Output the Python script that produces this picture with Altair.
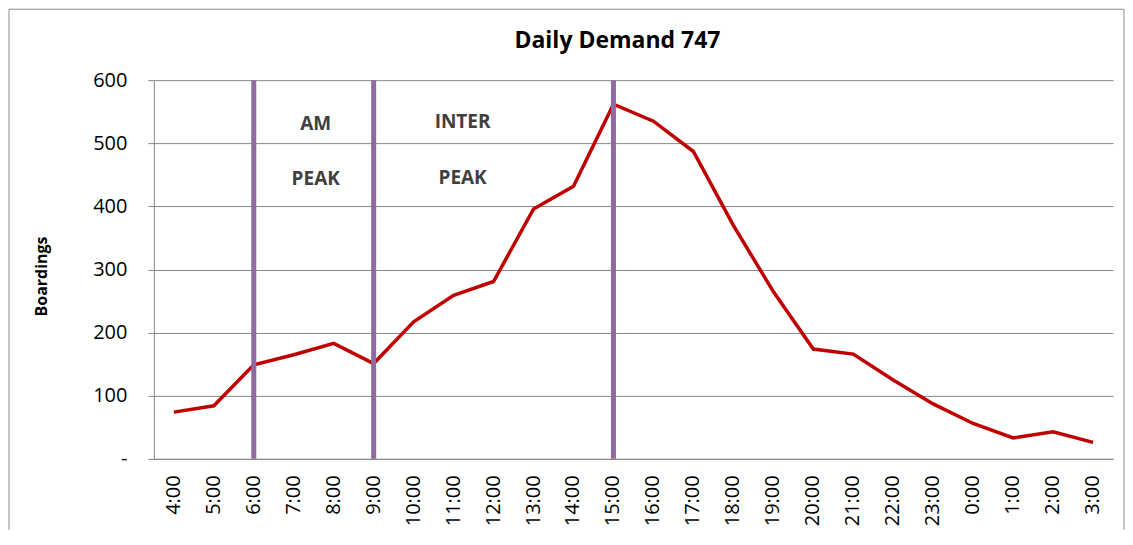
import altair as alt
import pandas as pd

# ---- data ----
hours = ["4:00", "5:00", "6:00", "7:00", "8:00", "9:00", "10:00", "11:00",
         "12:00", "13:00", "14:00", "15:00", "16:00", "17:00", "18:00", "19:00",
         "20:00", "21:00", "22:00", "23:00", "0:00", "1:00", "2:00", "3:00"]
boardings = [74, 84, 149, 165, 183, 151, 217, 259, 281, 396, 432, 562,
             535, 487, 370, 265, 174, 166, 125, 87, 56, 33, 43, 26]

period_marks = ["6:00", "9:00", "15:00"]

am_labels = ["AM", "PEAK"]
am_hours = ["7:00", "7:00"]
am_values = [531, 443]

inter_labels = ["INTER", "PEAK"]
inter_hours = ["11:00", "11:00"]
inter_values = [534, 445]

y_ticks = [0, 100, 200, 300, 400, 500, 600]

FONT = "Open Sans"
GRID = "#888888"

line_df = pd.DataFrame({"hour": hours, "value": boardings})
marks_df = pd.DataFrame({"hour": period_marks})
am_df = pd.DataFrame({"hour": am_hours, "value": am_values, "label": am_labels})
inter_df = pd.DataFrame({"hour": inter_hours, "value": inter_values, "label": inter_labels})
frame_df = pd.DataFrame({"k": [0]})

x_axis = alt.Axis(title=None, labelAngle=-90, ticks=False, grid=False,
                  domainColor=GRID, labelFont=FONT, labelFontSize=20,
                  labelColor="black", labelPadding=16)
y_axis = alt.Axis(values=y_ticks, title="Boardings",
                  labelExpr="datum.value == 0 ? '-' : datum.label",
                  labelFont=FONT, labelFontSize=20, labelColor="black",
                  labelPadding=21, tickSize=6, tickColor=GRID, domainColor=GRID,
                  gridColor=GRID, grid=True,
                  titleFont=FONT, titleFontSize=16, titleFontWeight="bold",
                  titleColor="black", titleX=-107, titleY=196,
                  titleBaseline="alphabetic")

x_scale = alt.Scale(domain=hours)
y_scale = alt.Scale(domain=[0, 600], nice=False)


def xe():
    return alt.X("hour:N", sort=hours, scale=x_scale, axis=x_axis)


def ye():
    return alt.Y("value:Q", scale=y_scale, axis=y_axis)


frame_left = alt.Chart(frame_df).mark_rule(color="#8c8c8c", strokeWidth=1).encode(
    x=alt.value(-145), y=alt.value(-71), y2=alt.value(450))
frame_top = alt.Chart(frame_df).mark_rule(color="#8c8c8c", strokeWidth=1).encode(
    x=alt.value(-145), x2=alt.value(971), y=alt.value(-71))
frame_right = alt.Chart(frame_df).mark_rule(color="#8c8c8c", strokeWidth=1).encode(
    x=alt.value(971), y=alt.value(-71), y2=alt.value(450))

line = alt.Chart(line_df).mark_line(color="#c00000", strokeWidth=3.5).encode(
    x=xe(), y=ye())

rules = alt.Chart(marks_df).mark_rule(color="#8f69a0", strokeWidth=5).encode(
    x=xe(), y=alt.datum(0), y2=alt.datum(600))

am_text = alt.Chart(am_df).mark_text(
    font=FONT, fontSize=19, fontWeight="bold", color="#404040",
    align="center", baseline="middle", dx=22).encode(
    x=xe(), y=ye(), text="label:N")

inter_text = alt.Chart(inter_df).mark_text(
    font=FONT, fontSize=19, fontWeight="bold", color="#404040",
    align="center", baseline="middle", dx=9).encode(
    x=xe(), y=ye(), text="label:N")

chart = alt.layer(
    frame_left, frame_top, frame_right, line, rules, am_text, inter_text
).properties(
    width=960,
    height=379,
    padding={"left": 0, "top": 0, "right": 0, "bottom": 0},
    title=alt.Title("Daily Demand 747", fontSize=23, font=FONT,
                    fontWeight="bold", color="black", anchor="middle",
                    offset=-44, dx=-16),
).configure_view(strokeWidth=0)

chart.save("out.html", embed_options={"renderer": "svg", "actions": False})
